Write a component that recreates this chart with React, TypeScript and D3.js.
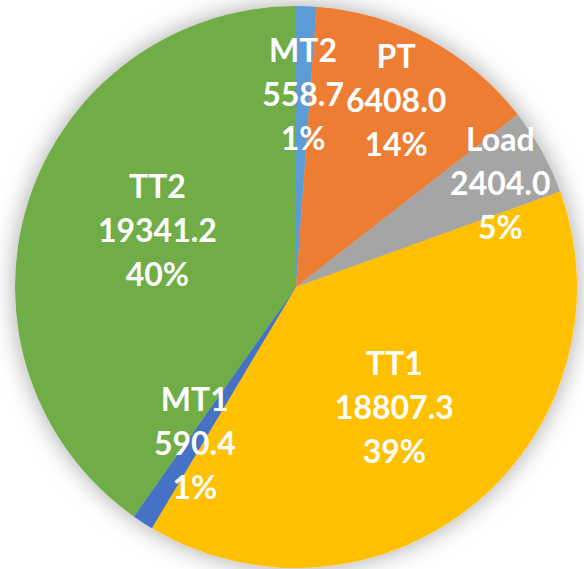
import { useEffect, useRef } from "react"
import * as d3 from "d3"

// slices in drawing order, clockwise from 12 o'clock
const categories = ["MT2", "PT", "Load", "TT1", "MT1", "TT2"]
const values = [558.7, 6408.0, 2404.0, 18807.3, 590.4, 19341.2]
// percentages as printed on the chart
const percentLabels = ["1%", "14%", "5%", "39%", "1%", "40%"]
const colors = ["#5B9BD5", "#ED7D31", "#A5A5A5", "#FFC000", "#4472C4", "#70AD47"]

// label placement: share of radius along the mid angle, plus a small nudge
const labelRadius: Record<string, number> = {
  MT2: 0.69,
  PT: 0.755,
  Load: 0.81,
  TT1: 0.55,
  MT1: 0.66,
  TT2: 0.51,
}
const labelNudge: Record<string, [number, number]> = {
  Load: [5, 5],
  TT2: [-2, -14],
}

const W = 584
const H = 569

export default function App() {
  const svgRef = useRef<SVGSVGElement>(null)

  useEffect(() => {
    if (!svgRef.current) return
    const svg = d3.select(svgRef.current)
    svg.selectAll("*").remove()

    const cx = 296
    const cy = 287
    const radius = 281

    const defs = svg.append("defs")
    const filter = defs
      .append("filter")
      .attr("id", "shadow")
      .attr("x", "-20%")
      .attr("y", "-20%")
      .attr("width", "140%")
      .attr("height", "140%")
    filter
      .append("feDropShadow")
      .attr("dx", 0)
      .attr("dy", 0)
      .attr("stdDeviation", 12)
      .attr("flood-color", "#000")
      .attr("flood-opacity", 0.35)

    svg.append("rect").attr("width", W).attr("height", H).attr("fill", "#fff")

    const data = categories.map((name, i) => ({
      name,
      value: values[i],
      pct: percentLabels[i],
      color: colors[i],
    }))

    const pie = d3
      .pie<any>()
      .sort(null)
      .value((d) => d.value)

    const arc = d3.arc<any>().innerRadius(0).outerRadius(radius)

    const g = svg.append("g").attr("transform", `translate(${cx},${cy})`)

    const arcs = pie(data)

    const slices = g.append("g").attr("filter", "url(#shadow)")
    slices
      .selectAll("path")
      .data(arcs)
      .enter()
      .append("path")
      .attr("d", arc)
      .attr("fill", (d) => d.data.color)

    const labels = g
      .selectAll(".label")
      .data(arcs)
      .enter()
      .append("text")
      .attr("class", "label")
      .attr("transform", (d) => {
        const r = radius * labelRadius[d.data.name]
        const a = (d.startAngle + d.endAngle) / 2
        const [nx, ny] = labelNudge[d.data.name] || [0, 0]
        return `translate(${r * Math.sin(a) + nx},${-r * Math.cos(a) + ny})`
      })
      .attr("text-anchor", "middle")
      .attr("fill", "#fff")
      .style("font-family", "Lato, 'Open Sans', sans-serif")
      .style("font-weight", "bold")
      .style("font-size", "32px")

    labels.each(function (d) {
      const t = d3.select(this)
      const lines = [d.data.name, d.data.value.toFixed(1), d.data.pct]
      lines.forEach((line, i) => {
        t.append("tspan")
          .attr("x", 0)
          .attr("y", (i - 1) * 44)
          .attr("dominant-baseline", "central")
          .text(line)
      })
    })
  }, [])

  return (
    <svg
      ref={svgRef}
      width={W}
      height={H}
      style={{ position: "absolute", left: 0, top: 0 }}
    />
  )
}
